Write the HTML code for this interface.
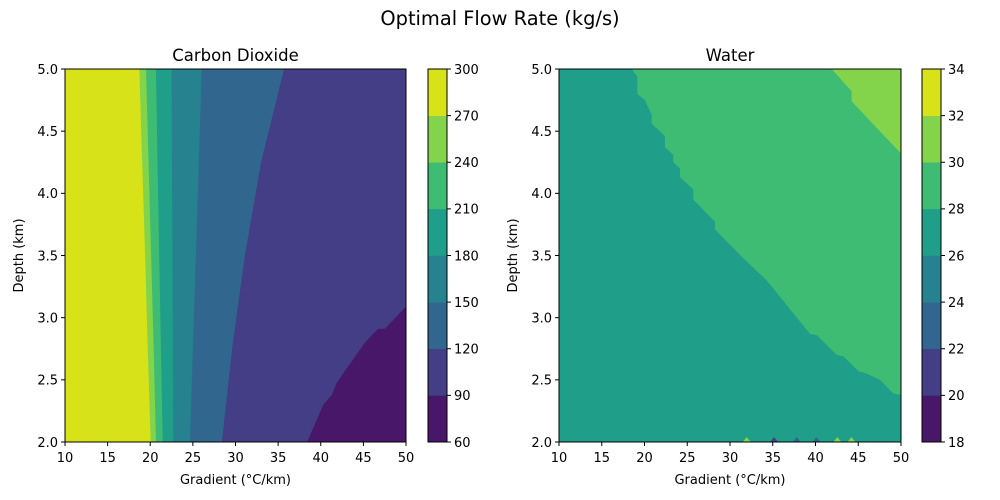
<!DOCTYPE html>
<html><head><meta charset="utf-8">
<style>
html,body{margin:0;padding:0;background:#fff;}
svg{display:block;font-family:"DejaVu Sans","Liberation Sans",sans-serif;}
</style></head>
<body>
<svg id="fig" width="1000" height="500" viewBox="0 0 1000 500" xmlns="http://www.w3.org/2000/svg">
<rect width="1000" height="500" fill="#fff"/>
<text x="500" y="25" font-size="19.4" text-anchor="middle" fill="#000">Optimal Flow Rate (kg/s)</text>
</svg>
<script>
// ---- data ----
const colors = ["#481769","#433e85","#31668e","#26828e","#1f9e89","#3fbc73","#84d44b","#d8e219"];
const xTicks = [10,15,20,25,30,35,40,45,50];
const yTicks = [2.0,2.5,3.0,3.5,4.0,4.5,5.0];
const co2Levels = [60,90,120,150,180,210,240,270,300];
const waterLevels = [18,20,22,24,26,28,30,32,34];
// CO2 boundary gradients sampled at these depths
const co2Depths = [2.0,2.75,3.5,4.25,5.0];
const co2B120 = [28.4,29.6,31.1,33.0,35.7];
const co2B150 = [24.66,25.0,25.35,25.7,26.03];
const co2B180 = [22.7,22.65,22.6,22.55,22.5];
const co2B210 = [21.46,21.25,21.05,20.85,20.67];
const co2B240 = [20.67,20.4,20.1,19.8,19.5];
const co2B270 = [20.05,19.7,19.4,19.05,18.72];
// CO2 90-level boundary (gradient, depth)
const co2B90G = [38.4,40.3,41.3,41.9,45.2,46.7,47.5,50];
const co2B90D = [2.0,2.30,2.38,2.48,2.80,2.91,2.91,3.09];
// Water 28-level boundary
const w28G = [18.5,19.16,19.16,20.06,20.84,20.84,22.4,22.4,23.37,23.37,24.15,24.15,25.71,25.71,28.25,28.25,31.37,34.29,39.36,40.14,42.48,43.25,45.01,45.99,47.54,49.1,50];
const w28D = [5.0,4.94,4.80,4.75,4.63,4.56,4.46,4.37,4.31,4.25,4.20,4.13,4.03,3.95,3.77,3.71,3.49,3.30,2.87,2.86,2.70,2.69,2.57,2.55,2.50,2.39,2.38];
// Water 30-level boundary
const w30G = [41.9,44.23,44.23,50];
const w30D = [5.0,4.82,4.74,4.32];
// small artifacts at bottom of water plot (gradient, band index)
const wSpikeG = [31.95,35.15,37.8,40.1,42.55,44.2];
const wSpikeBand = [6,1,2,2,6,6];

const NS="http://www.w3.org/2000/svg";
const svg=document.getElementById('fig');
function el(tag,attrs,parent){const e=document.createElementNS(NS,tag);for(const k in attrs)e.setAttribute(k,attrs[k]);(parent||svg).appendChild(e);return e;}

function makeAxes(x0,x1,y0,y1){
  return {sx:g=>x0+(g-10)/40*(x1-x0), sy:d=>y1-(d-2)/3*(y1-y0), x0,x1,y0,y1};
}
function ptsStr(a){return a.map(p=>p[0].toFixed(2)+","+p[1].toFixed(2)).join(" ");}

function drawAxesFrame(ax,title,prefix){
  const g=el('g',{});
  
  
  el('rect',{x:ax.x0,y:ax.y0,width:ax.x1-ax.x0,height:ax.y1-ax.y0,fill:'none',stroke:'#000','stroke-width':1},g);
  xTicks.forEach(t=>{const x=ax.sx(t);
    el('line',{x1:x,x2:x,y1:ax.y1,y2:ax.y1+4,stroke:'#000'},g);
    const tx=el('text',{x:x,y:ax.y1+20,'font-size':13,'text-anchor':'middle'},g);tx.textContent=t;
    
    
  });
  yTicks.forEach(t=>{const y=ax.sy(t);
    el('line',{x1:ax.x0-4,x2:ax.x0,y1:y,y2:y,stroke:'#000'},g);
    const tx=el('text',{x:ax.x0-7,y:y+4.8,'font-size':13,'text-anchor':'end'},g);tx.textContent=t.toFixed(1);
    
    
  });
  const xl=el('text',{x:(ax.x0+ax.x1)/2,y:484,'font-size':13,'text-anchor':'middle'},g);xl.textContent='Gradient (°C/km)';
  
  
  const cy=(ax.y0+ax.y1)/2, cx=ax.x0-42;
  const yl=el('text',{x:cx,y:cy,'font-size':13,'text-anchor':'middle',transform:`rotate(-90 ${cx} ${cy})`},g);yl.textContent='Depth (km)';
  
  
  const tt=el('text',{x:(ax.x0+ax.x1)/2,y:ax.y0-8,'font-size':16.5,'text-anchor':'middle'},g);tt.textContent=title;
  
  
}

function drawColorbar(x0,x1,y0,y1,levels,prefix){
  const g=el('g',{});
  
  
  const n=levels.length-1, h=(y1-y0)/n;
  for(let i=0;i<n;i++){
    const r=el('rect',{x:x0,y:y1-(i+1)*h,width:x1-x0,height:h+0.3,fill:colors[i]},g);
    
    
  }
  el('rect',{x:x0,y:y0,width:x1-x0,height:y1-y0,fill:'none',stroke:'#000'},g);
  levels.forEach((v,i)=>{const y=y1-i*h;
    el('line',{x1:x1,x2:x1+4,y1:y,y2:y,stroke:'#000'},g);
    const t=el('text',{x:x1+7,y:y+4.8,'font-size':13},g);t.textContent=v;
    
    
  });
}

// ---- CO2 plot ----
const A=makeAxes(65,406,69,442);
(function(){
  const g=el('g',{});
  
  
  const base=el('rect',{x:A.x0,y:A.y0,width:A.x1-A.x0,height:A.y1-A.y0,fill:colors[1]},g);
  
  
  const dk=co2B90G.map((v,i)=>[A.sx(v),A.sy(co2B90D[i])]);
  dk.push([A.sx(50),A.sy(2)]);
  const p0=el('polygon',{points:ptsStr(dk),fill:colors[0]},g);
  
  
  const bounds=[co2B120,co2B150,co2B180,co2B210,co2B240,co2B270];
  bounds.forEach((b,k)=>{
    const pts=[[A.sx(10),A.sy(2)]];
    co2Depths.forEach((d,i)=>pts.push([A.sx(b[i]),A.sy(d)]));
    pts.push([A.sx(10),A.sy(5)]);
    const p=el('polygon',{points:ptsStr(pts),fill:colors[k+2]},g);
    
    
  });
})();
drawAxesFrame(A,'Carbon Dioxide','co2');
drawColorbar(428,447,69,442,co2Levels,'co2');

// ---- Water plot ----
const B=makeAxes(559,901,69,442);
(function(){
  const g=el('g',{});
  
  
  const base=el('rect',{x:B.x0,y:B.y0,width:B.x1-B.x0,height:B.y1-B.y0,fill:colors[4]},g);
  
  
  const p1=w28G.map((v,i)=>[B.sx(v),B.sy(w28D[i])]);
  p1.push([B.sx(50),B.sy(5)]);
  const a=el('polygon',{points:ptsStr(p1),fill:colors[5]},g);
  
  
  const p2=w30G.map((v,i)=>[B.sx(v),B.sy(w30D[i])]);
  p2.push([B.sx(50),B.sy(5)]);
  const b=el('polygon',{points:ptsStr(p2),fill:colors[6]},g);
  
  
  wSpikeG.forEach((v,i)=>{
    const x=B.sx(v), y=B.sy(2);
    const s=el('polygon',{points:ptsStr([[x-4,y],[x,y-5],[x+4,y]]),fill:colors[wSpikeBand[i]]},g);
    
    
  });
})();
drawAxesFrame(B,'Water','water');
drawColorbar(922,941,69,442,waterLevels,'water');
</script>
</body></html>
